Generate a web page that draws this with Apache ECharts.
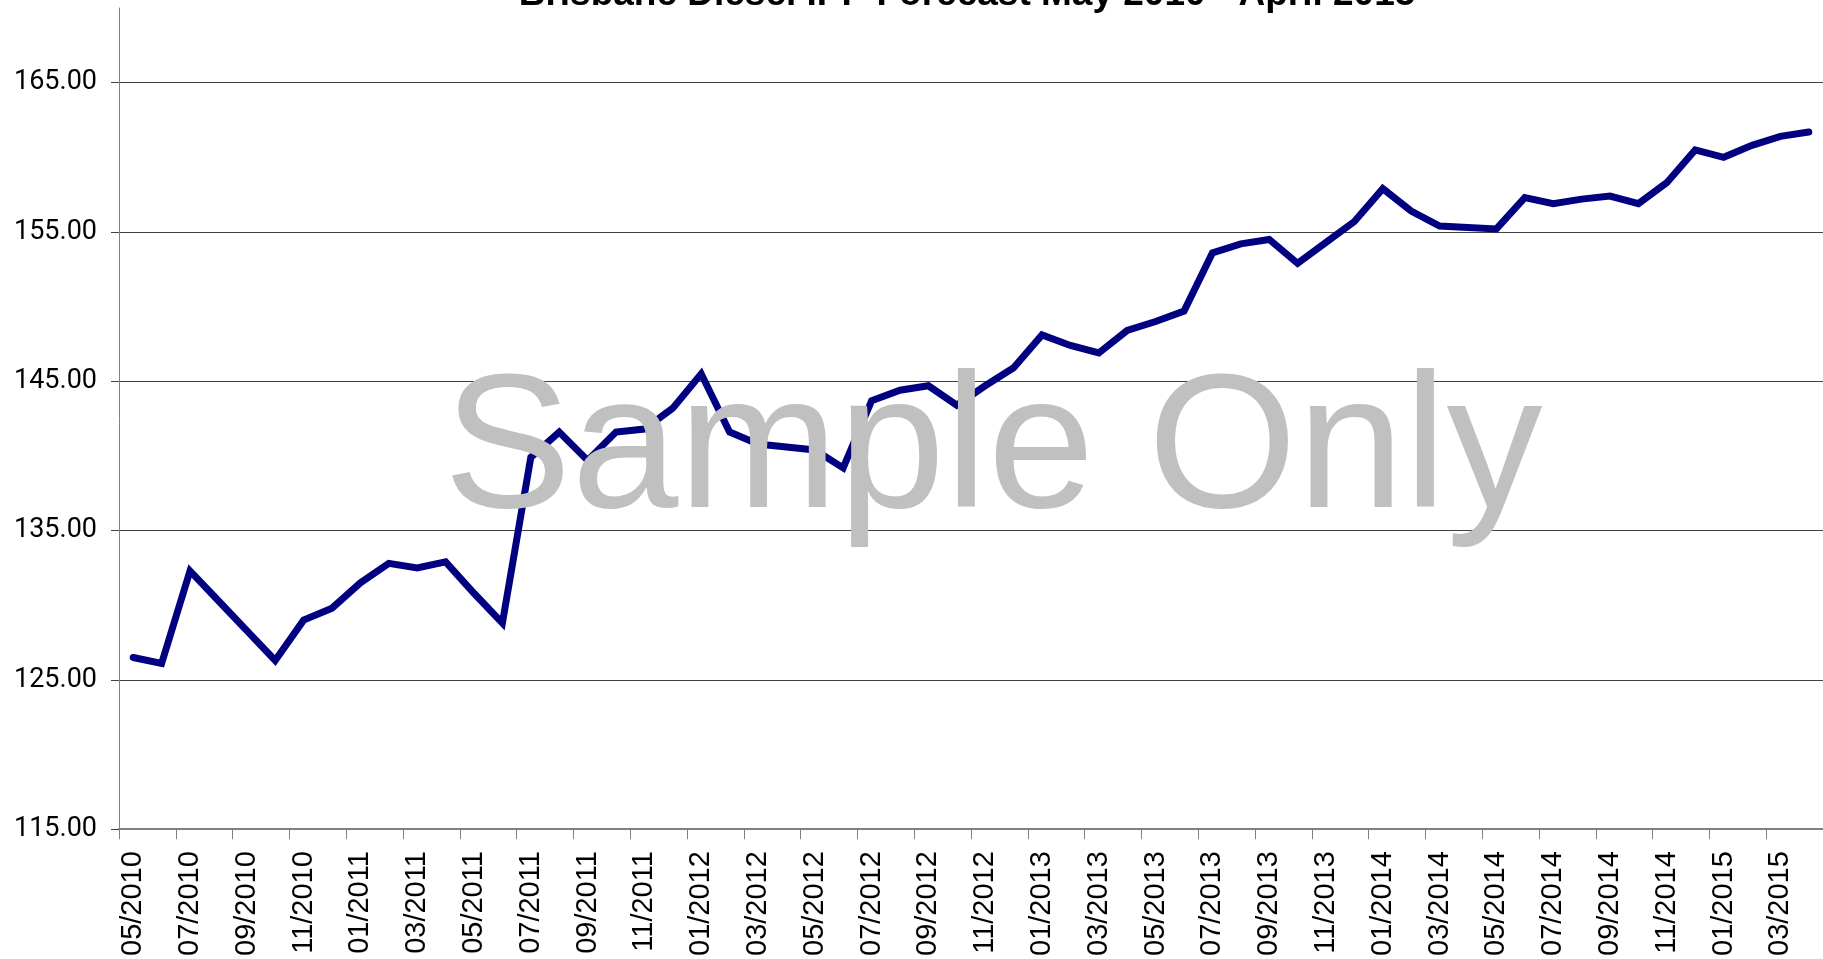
<!DOCTYPE html>
<html>
<head>
<meta charset="utf-8">
<script src="https://cdn.jsdelivr.net/npm/echarts@6/dist/echarts.min.js"></script>
<style>
html,body{margin:0;padding:0;background:#fff;}
#chart{width:1823px;height:959px;}
</style>
</head>
<body>
<div id="chart"></div>
<script>
const titleText = 'Brisbane Diesel IPP Forecast May 2010 - April 2015';
const watermarkText = 'Sample Only';
const months = [
  '05/2010','06/2010','07/2010','08/2010','09/2010','10/2010','11/2010','12/2010',
  '01/2011','02/2011','03/2011','04/2011','05/2011','06/2011','07/2011','08/2011','09/2011','10/2011','11/2011','12/2011',
  '01/2012','02/2012','03/2012','04/2012','05/2012','06/2012','07/2012','08/2012','09/2012','10/2012','11/2012','12/2012',
  '01/2013','02/2013','03/2013','04/2013','05/2013','06/2013','07/2013','08/2013','09/2013','10/2013','11/2013','12/2013',
  '01/2014','02/2014','03/2014','04/2014','05/2014','06/2014','07/2014','08/2014','09/2014','10/2014','11/2014','12/2014',
  '01/2015','02/2015','03/2015','04/2015'
];
const ippValues = [
  126.5,126.1,132.3,130.3,128.3,126.3,129.0,129.8,
  131.5,132.8,132.5,132.9,130.8,128.8,139.9,141.6,139.7,141.6,141.8,143.2,
  145.5,141.6,140.8,140.6,140.4,139.2,143.7,144.4,144.7,143.4,144.7,145.9,
  148.1,147.4,146.9,148.4,149.0,149.7,153.6,154.2,154.5,152.9,154.3,155.7,
  157.9,156.4,155.4,155.3,155.2,157.3,156.9,157.2,157.4,156.9,158.3,160.5,
  160.0,160.8,161.4,161.7
];
const yTicks = [115,125,135,145,155,165];
const yMin = 115, yMax = 170;

const chart = echarts.init(document.getElementById('chart'), null, {renderer:'canvas'});
chart.setOption({
  animation: false,
  backgroundColor: '#ffffff',
  grid: {left: 119, right: 0, top: 8, bottom: 126, containLabel: false},
  xAxis: {
    type: 'category',
    data: months,
    boundaryGap: true,
    axisLine: {lineStyle: {color: '#808080', width: 2}},
    axisTick: {show: true, interval: 1, length: 10, lineStyle: {color: '#808080', width: 1}},
    axisLabel: {
      interval: 1, rotate: 90, margin: 22,
      fontFamily: 'Liberation Sans, Arial, sans-serif', fontSize: 29, color: '#000'
    },
    splitLine: {show: false}
  },
  yAxis: {
    type: 'value',
    min: yMin, max: yMax, interval: 10,
    axisLine: {show: true, lineStyle: {color: '#808080', width: 1}},
    axisTick: {show: true, length: 8, customValues: yTicks, lineStyle: {color: '#404040', width: 1}},
    axisLabel: {
      customValues: yTicks,
      margin: 22,
      fontFamily: 'Roboto, sans-serif', fontSize: 27, color: '#000',
      formatter: v => v.toFixed(2)
    },
    splitLine: {show: true, lineStyle: {color: '#404040', width: 1}}
  },
  series: [{
    type: 'line',
    data: ippValues,
    showSymbol: false,
    symbol: 'none',
    smooth: false,
    lineStyle: {color: '#000080', width: 7, cap: 'round', join: 'miter'},
    z: 3
  }],
  graphic: [
    {
      type: 'text', x: 967, y: 13, z: 10,
      style: {
        text: titleText, align: 'center', verticalAlign: 'bottom',
        font: 'bold 37px "Liberation Sans", Arial, sans-serif', fill: '#000'
      }
    },
    {
      type: 'text', x: 993, y: 454, z: 100,
      style: {
        text: watermarkText, align: 'center', verticalAlign: 'middle',
        font: '192px "Liberation Sans", Arial, sans-serif', fill: '#C0C0C0'
      }
    }
  ]
});
</script>
</body>
</html>
